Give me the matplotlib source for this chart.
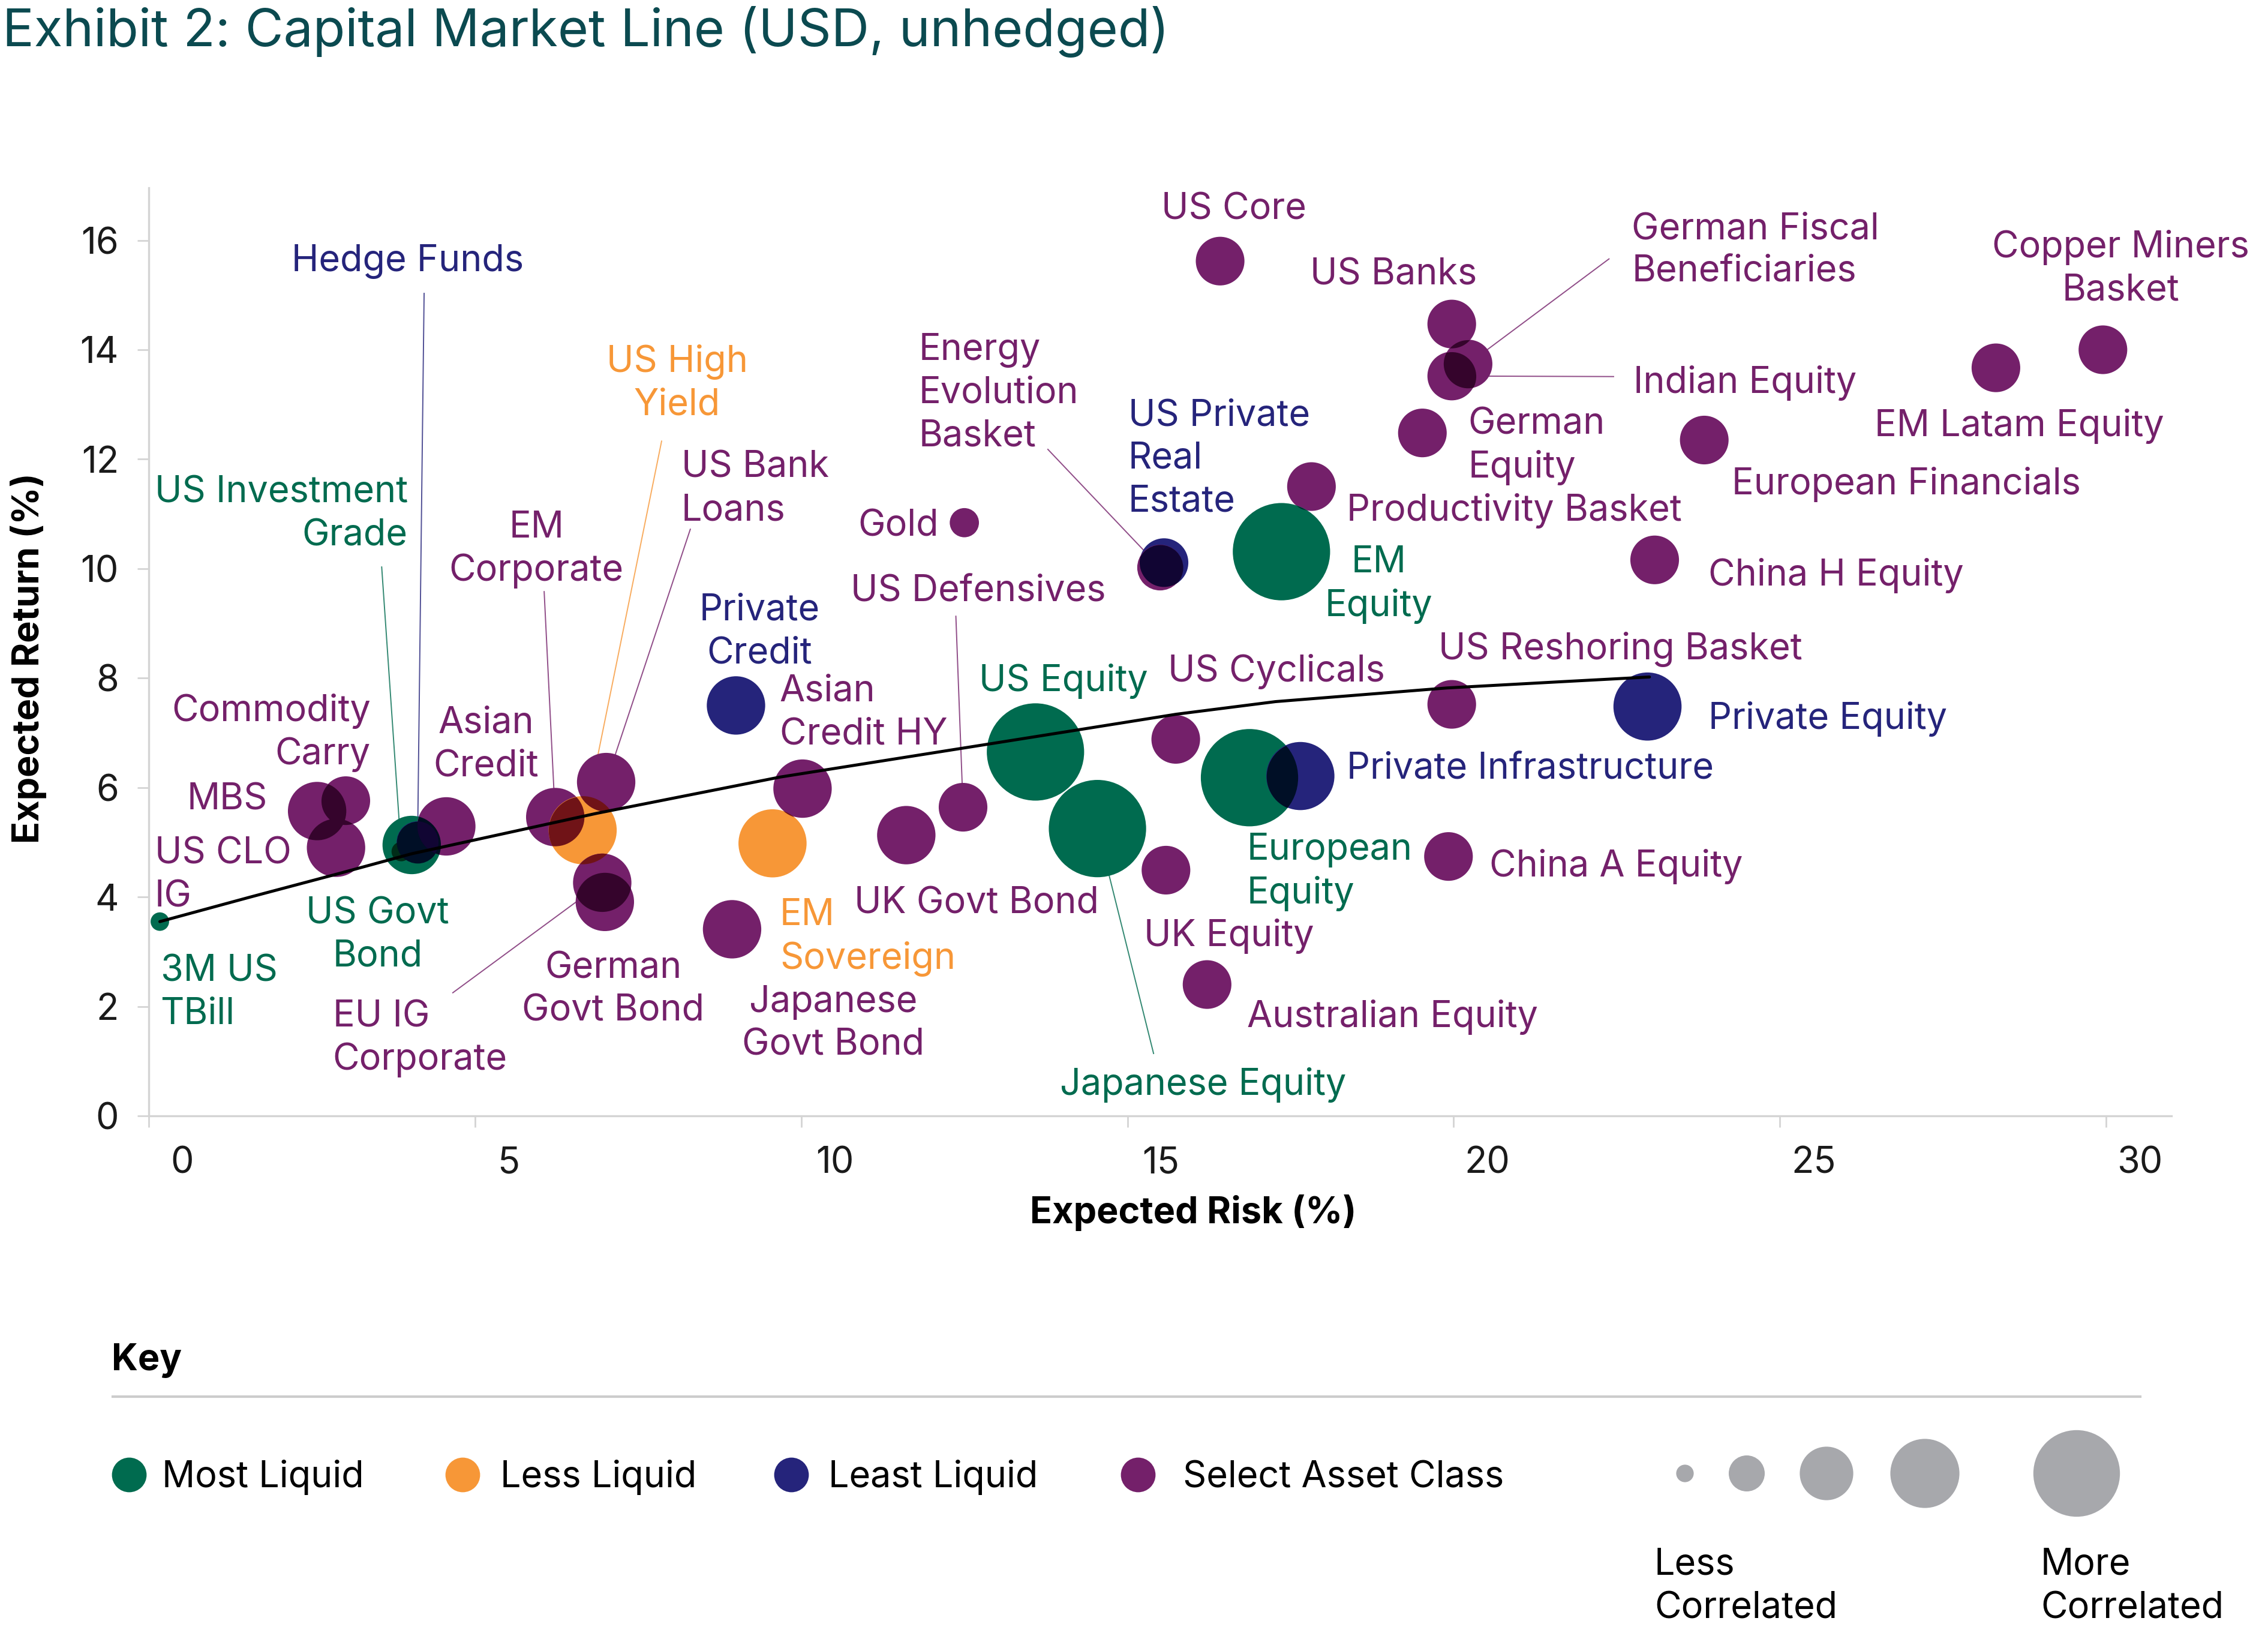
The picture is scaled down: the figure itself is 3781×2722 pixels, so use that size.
import matplotlib
matplotlib.use("Agg")
import matplotlib.pyplot as plt
import numpy as np
from matplotlib.path import Path
from matplotlib.transforms import Affine2D, ScaledTranslation
from matplotlib.colors import to_rgb

plt.rcParams['font.family'] = ['Inter', 'DejaVu Sans']

# ---------------- data ----------------
names = ['3M US TBill', 'US Investment Grade', 'US Govt Bond', 'Hedge Funds', 'MBS',
         'Commodity Carry', 'US CLO IG', 'Asian Credit', 'EM Corporate', 'US High Yield',
         'US Bank Loans', 'EU IG Corporate', 'German Govt Bond', 'Private Credit',
         'Japanese Govt Bond', 'EM Sovereign', 'Asian Credit HY', 'UK Govt Bond',
         'US Defensives', 'Gold', 'US Equity', 'Japanese Equity', 'US Cyclicals',
         'UK Equity', 'Australian Equity', 'European Equity', 'Private Infrastructure',
         'US Private Real Estate', 'Energy Evolution Basket', 'US Core', 'US Banks',
         'German Fiscal Beneficiaries', 'Indian Equity', 'German Equity',
         'Productivity Basket', 'EM Equity', 'US Reshoring Basket', 'China A Equity',
         'China H Equity', 'European Financials', 'EM Latam Equity',
         'Copper Miners Basket', 'Private Equity']
risk = [0.17, 3.87, 4.03, 4.12, 2.58, 3.02, 2.87, 4.56, 6.23, 6.65,
        7.01, 6.95, 6.99, 9.00, 8.94, 9.56, 10.02, 11.61, 12.48, 12.50,
        13.59, 14.54, 15.74, 15.59, 16.22, 16.87, 17.65, 15.56, 15.50, 16.42,
        19.97, 20.22, 19.97, 19.52, 17.82, 17.36, 19.97, 19.92, 23.08, 23.84,
        28.31, 29.95, 22.97]
ret = [3.55, 4.83, 4.95, 5.00, 5.57, 5.76, 4.90, 5.29, 5.46, 5.22,
       6.10, 4.26, 3.91, 7.50, 3.41, 4.98, 5.98, 5.13, 5.64, 10.84,
       6.65, 5.25, 6.88, 4.49, 2.40, 6.18, 6.21, 10.11, 10.02, 15.62,
       14.47, 13.74, 13.52, 12.48, 11.50, 10.31, 7.52, 4.74, 10.16, 12.35,
       13.67, 14.00, 7.48]
liquidity = ['Most', 'Most', 'Most', 'Least', 'Select', 'Select', 'Select', 'Select', 'Select', 'Less',
             'Select', 'Select', 'Select', 'Least', 'Select', 'Less', 'Select', 'Select', 'Select', 'Select',
             'Most', 'Most', 'Select', 'Select', 'Select', 'Most', 'Least', 'Least', 'Select', 'Select',
             'Select', 'Select', 'Select', 'Select', 'Select', 'Most', 'Select', 'Select', 'Select', 'Select',
             'Select', 'Select', 'Least']
correlation = [0.19, 0.20, 0.60, 0.43, 0.60, 0.50, 0.60, 0.60, 0.60, 0.70,
               0.60, 0.60, 0.60, 0.60, 0.60, 0.70, 0.60, 0.60, 0.50, 0.30,
               1.00, 1.00, 0.50, 0.50, 0.50, 1.00, 0.70, 0.50, 0.47, 0.50,
               0.50, 0.50, 0.50, 0.50, 0.50, 1.00, 0.50, 0.50, 0.50, 0.50,
               0.50, 0.50, 0.70]

cml_risk = [0.17, 1.56, 2.92, 4.03, 6.87, 9.67, 13.59, 15.75, 17.27, 19.90, 21.59, 23.00]
cml_return = [3.55, 4.00, 4.43, 4.79, 5.53, 6.19, 6.93, 7.34, 7.57, 7.82, 7.93, 8.02]

x_ticks = [0, 5, 10, 15, 20, 25, 30]
y_ticks = [0, 2, 4, 6, 8, 10, 12, 14, 16]

key_categories = ['Most', 'Less', 'Least', 'Select']
key_labels = ['Most Liquid', 'Less Liquid', 'Least Liquid', 'Select Asset Class']
key_correlation = [0.18, 0.37, 0.55, 0.71, 0.89]

# ---------------- style ----------------
COLORS = {'Most': '#006B4F', 'Less': '#F79737', 'Least': '#25247B', 'Select': '#74206A'}
W, H, DPI = 3781, 2722, 200
FS = 22
LS = 1.3
R_PT = 29.2  # marker radius (pt) for correlation 1.0

def msize(c):
    return (2 * R_PT * c) ** 2

fig = plt.figure(figsize=(W / DPI, H / DPI), dpi=DPI)
ax = fig.add_axes([248 / W, 1 - 1860 / H, (3620 - 248) / W, (1860 - 313) / H])
ax.set_xlim(0, 31.0)
ax.set_ylim(0, 16.96)

for s in ['top', 'right']:
    ax.spines[s].set_visible(False)
for s in ['left', 'bottom']:
    ax.spines[s].set_color('#d4d4d4')
    ax.spines[s].set_linewidth(1.2)
ax.set_xticks(x_ticks)
ax.set_yticks(y_ticks)
ax.tick_params(axis='both', length=7, width=1.0, color='#d4d4d4', labelsize=FS,
               labelcolor='#1a1a1a', pad=11)
offset = ScaledTranslation(56 / DPI, 0, fig.dpi_scale_trans)
for lab in ax.get_xticklabels():
    lab.set_transform(lab.get_transform() + offset)

cols = [COLORS[l] for l in liquidity]
sizes = [msize(c) for c in correlation]
ax.scatter(risk, ret, s=sizes, c=cols, linewidths=0, zorder=3)

# multiply-style darkening where bubbles overlap
pts = ax.transData.transform(np.column_stack([risk, ret]))
r_px = np.array([R_PT * c * DPI / 72 for c in correlation])
n = len(names)
for i in range(n):
    for j in range(i + 1, n):
        d = np.hypot(*(pts[i] - pts[j]))
        if d < r_px[i] + r_px[j] - 1:
            mc = tuple(a * b for a, b in zip(to_rgb(cols[i]), to_rgb(cols[j])))
            sc = ax.scatter([risk[j]], [ret[j]], s=sizes[j], color=mc, linewidths=0, zorder=3.5)
            sc.set_clip_path(Path.unit_circle(),
                             Affine2D().scale(r_px[i]).translate(pts[i][0], pts[i][1]))

ax.plot(cml_risk, cml_return, color='black', lw=1.8, zorder=5,
        solid_capstyle='round', solid_joinstyle='round')

# ---------------- labels ----------------
label_layout = {
    '3M US TBill': ('3M US\nTBill', 0.18, 2.29, 'left'),
    'US Investment Grade': ('US Investment\nGrade', 3.97, 11.04, 'right'),
    'US Govt Bond': ('US Govt\nBond', 3.51, 3.35, 'center'),
    'Hedge Funds': ('Hedge Funds', 3.97, 15.66, 'center'),
    'MBS': ('MBS', 1.82, 5.82, 'right'),
    'Commodity Carry': ('Commodity\nCarry', 3.40, 7.05, 'right'),
    'US CLO IG': ('US CLO\nIG', 0.09, 4.44, 'left'),
    'Asian Credit': ('Asian\nCredit', 5.17, 6.83, 'center'),
    'EM Corporate': ('EM\nCorporate', 5.94, 10.4, 'center'),
    'US High Yield': ('US High\nYield', 8.10, 13.43, 'center'),
    'US Bank Loans': ('US Bank\nLoans', 8.16, 11.5, 'left'),
    'EU IG Corporate': ('EU IG\nCorporate', 2.82, 1.46, 'left'),
    'German Govt Bond': ('German\nGovt Bond', 7.12, 2.35, 'center'),
    'Private Credit': ('Private\nCredit', 9.36, 8.89, 'center'),
    'Japanese Govt Bond': ('Japanese\nGovt Bond', 10.49, 1.73, 'center'),
    'EM Sovereign': ('EM\nSovereign', 9.67, 3.31, 'left'),
    'Asian Credit HY': ('Asian\nCredit HY', 9.67, 7.41, 'left'),
    'UK Govt Bond': ('UK Govt Bond', 12.69, 3.92, 'center'),
    'US Defensives': ('US Defensives', 12.71, 9.63, 'center'),
    'Gold': ('Gold', 12.11, 10.82, 'right'),
    'US Equity': ('US Equity', 14.02, 7.99, 'center'),
    'Japanese Equity': ('Japanese Equity', 16.16, 0.61, 'center'),
    'US Cyclicals': ('US Cyclicals', 17.28, 8.17, 'center'),
    'UK Equity': ('UK Equity', 16.56, 3.33, 'center'),
    'Australian Equity': ('Australian Equity', 16.83, 1.85, 'left'),
    'European Equity': ('European\nEquity', 16.83, 4.51, 'left'),
    'Private Infrastructure': ('Private Infrastructure', 18.36, 6.38, 'left'),
    'US Private Real Estate': ('US Private\nReal\nEstate', 15.01, 12.06, 'left'),
    'Energy Evolution Basket': ('Energy\nEvolution\nBasket', 11.80, 13.25, 'left'),
    'US Core': ('US Core', 16.63, 16.61, 'center'),
    'US Banks': ('US Banks', 19.08, 15.42, 'center'),
    'German Fiscal Beneficiaries': ('German Fiscal\nBeneficiaries', 22.73, 15.86, 'left'),
    'Indian Equity': ('Indian Equity', 22.75, 13.44, 'left'),
    'German Equity': ('German\nEquity', 20.22, 12.29, 'left'),
    'Productivity Basket': ('Productivity Basket', 18.36, 11.11, 'left'),
    'EM Equity': ('EM\nEquity', 18.85, 9.76, 'center'),
    'US Reshoring Basket': ('US Reshoring Basket', 22.55, 8.57, 'center'),
    'China A Equity': ('China A Equity', 20.55, 4.6, 'left'),
    'China H Equity': ('China H Equity', 23.90, 9.92, 'left'),
    'European Financials': ('European Financials', 24.26, 11.59, 'left'),
    'EM Latam Equity': ('EM Latam Equity', 28.67, 12.65, 'center'),
    'Copper Miners Basket': ('Copper Miners\nBasket', 30.22, 15.53, 'center'),
    'Private Equity': ('Private Equity', 23.90, 7.30, 'left'),
}
leader_starts = {
    'Hedge Funds': (4.22, 15.03),
    'US Investment Grade': (3.57, 10.03),
    'US High Yield': (7.86, 12.33),
    'US Bank Loans': (8.30, 10.72),
    'EM Corporate': (6.06, 9.58),
    'EU IG Corporate': (4.66, 2.25),
    'Energy Evolution Basket': (13.78, 12.18),
    'US Defensives': (12.37, 9.13),
    'Japanese Equity': (15.40, 1.14),
    'German Fiscal Beneficiaries': (22.38, 15.66),
    'Indian Equity': (22.45, 13.51),
}

for k, name in enumerate(names):
    txt, tx, ty, ha = label_layout[name]
    ax.text(tx, ty - 0.05, txt, color=cols[k], fontsize=FS, ha=ha, va='center',
            linespacing=LS, zorder=6)
    if name in leader_starts:
        sx, sy = leader_starts[name]
        ax.plot([sx, risk[k]], [sy, ret[k]], color=cols[k], lw=0.7, alpha=0.8, zorder=2)

# axis titles & chart title
fig.text(1989 / W, 1 - 2022 / H, 'Expected Risk (%)', fontsize=FS, fontweight='bold',
         ha='center', va='center', color='black')
fig.text(48 / W, 1 - 1097 / H, 'Expected Return (%)', fontsize=FS, fontweight='bold',
         ha='center', va='center', rotation=90, color='black')
fig.text(4 / W, 1 - 77 / H, 'Exhibit 2: Capital Market Line (USD, unhedged)', fontsize=31.5,
         ha='left', va='baseline', color='#0B4A50')

# ---------------- key ----------------
kax = fig.add_axes([0, 0, 1, 1])
kax.set_xlim(0, W)
kax.set_ylim(H, 0)
kax.axis('off')
kax.text(186, 2268, 'Key', fontsize=FS, fontweight='bold', ha='left', va='center')
kax.plot([188, 3568], [2328, 2328], color='#cccccc', lw=1.5)
key_x = [215, 771, 1319, 1897]
key_tx = [270, 834, 1381, 1972]
for cat, lab, cx, tx in zip(key_categories, key_labels, key_x, key_tx):
    kax.scatter([cx], [2458], s=(2 * 10.4) ** 2, color=COLORS[cat], linewidths=0)
    kax.text(tx, 2463, lab, fontsize=FS, ha='left', va='center', color='black')
size_x = [2809, 2912, 3045, 3209, 3462]
kax.scatter(size_x, [2456] * len(size_x), s=[msize(c) for c in key_correlation],
            color='#A7A8AC', linewidths=0)
kax.text(2758, 2645, 'Less\nCorrelated', fontsize=FS, ha='left', va='center', linespacing=1.35)
kax.text(3402, 2645, 'More\nCorrelated', fontsize=FS, ha='left', va='center', linespacing=1.35)

fig.savefig('out.png', dpi=DPI)
